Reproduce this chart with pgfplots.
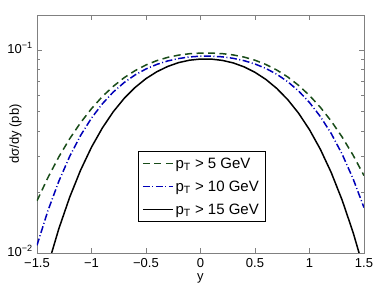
\documentclass[border=0pt]{standalone}
\usepackage{pgfplots}
\pgfplotsset{compat=1.18}
\usepackage{fontspec}
\setmainfont{Liberation Sans}
\definecolor{dgreen}{rgb}{0.1,0.3,0.1}
\definecolor{dblue}{rgb}{0,0,0.72}
\definecolor{axgray}{rgb}{0.5,0.5,0.5}
\begin{document}
\begin{tikzpicture}
\begin{axis}[
  name=ax,
  scale only axis, width=327pt, height=238pt,
  xmin=-1.5, xmax=1.5, ymode=log, ymin=0.01, ymax=0.1487,
  xtick={-1.5,-1,-0.5,0,0.5,1,1.5},
  xticklabels={−1.5,−1,−0.5,0,0.5,1,1.5},
  ytick={0.01,0.1},
  yticklabels={10\textsuperscript{−2},10\textsuperscript{−1}},
  tick align=inside, major tick length=5pt, minor tick length=3pt,
  axis line style={axgray},
  every tick/.style={axgray, line width=0.5pt},
  font=\fontsize{13}{15}\selectfont,
  xticklabel style={yshift=-4pt, inner sep=1pt},
  yticklabel style={xshift=-3pt, yshift=2pt, inner sep=1pt},
  xlabel={y},
  xlabel style={at={(axis description cs:0.5,-0.108)}, anchor=center, inner sep=0pt},
  ylabel={dσ/dy (pb)},
  ylabel style={at={(axis description cs:-0.066,0.5)}, anchor=center},
  legend style={at={(0.503,0.279)}, anchor=center, draw=black, fill=white,
    font=\fontsize{15}{17}\selectfont, row sep=7pt, inner sep=4pt},
  legend cell align=left,
  legend image code/.code={\draw[#1] (0pt,0pt) -- (30pt,0pt);},
]
\addplot[dgreen, line width=1.5pt, dash pattern=on 7pt off 4.5pt] coordinates {
(-1.5,0.01807) (-1.4,0.02350) (-1.3,0.02972) (-1.2,0.03656) (-1.1,0.04385)
(-1.0,0.05140) (-0.9,0.05902) (-0.8,0.06622) (-0.7,0.07305) (-0.6,0.07912)
(-0.5,0.08437) (-0.4,0.08865) (-0.3,0.09198) (-0.2,0.09434) (-0.1,0.09583)
(0,0.09652) (0.1,0.09654) (0.2,0.09592) (0.3,0.09454) (0.4,0.09226)
(0.5,0.08904) (0.6,0.08484) (0.7,0.07966) (0.8,0.07367) (0.9,0.06696)
(1.0,0.05970) (1.1,0.05218) (1.2,0.04461) (1.3,0.03724) (1.4,0.03034) (1.5,0.02407)
};
\addlegendentry{p\textsubscript{T} > 5 GeV}
\addplot[dblue, line width=1.5pt, dash pattern=on 7pt off 2.5pt on 1pt off 2.5pt] coordinates {
(-1.5,0.01091) (-1.4,0.01614) (-1.3,0.02254) (-1.2,0.02992) (-1.1,0.03793)
(-1.0,0.04618) (-0.9,0.05434) (-0.8,0.06209) (-0.7,0.06915) (-0.6,0.07535)
(-0.5,0.08063) (-0.4,0.08493) (-0.3,0.08831) (-0.2,0.09076) (-0.1,0.09240)
(0,0.09321) (0.1,0.09324) (0.2,0.09251) (0.3,0.09097) (0.4,0.08858)
(0.5,0.08531) (0.6,0.08111) (0.7,0.07594) (0.8,0.06981) (0.9,0.06282)
(1.0,0.05512) (1.1,0.04699) (1.2,0.03873) (1.3,0.03066) (1.4,0.02323) (1.5,0.01674)
};
\addlegendentry{p\textsubscript{T} > 10 GeV}
\addplot[black, line width=1.5pt] coordinates {
(-1.5,0.00533) (-1.4,0.00866) (-1.3,0.01315) (-1.2,0.01883) (-1.1,0.02559)
(-1.0,0.03320) (-0.9,0.04132) (-0.8,0.04965) (-0.7,0.05776) (-0.6,0.06538)
(-0.5,0.07228) (-0.4,0.07816) (-0.3,0.08299) (-0.2,0.08668) (-0.1,0.08906)
(0,0.09023) (0.1,0.09017) (0.2,0.08887) (0.3,0.08638) (0.4,0.08257)
(0.5,0.07762) (0.6,0.07162) (0.7,0.06465) (0.8,0.05698) (0.9,0.04883)
(1.0,0.04051) (1.1,0.03241) (1.2,0.02487) (1.3,0.01820) (1.4,0.01264) (1.5,0.00827)
};
\addlegendentry{p\textsubscript{T} > 15 GeV}
\draw[black, line width=0.6pt] (rel axis cs:0,0) -- (rel axis cs:1,0);
\end{axis}
\path ([xshift=-37pt,yshift=-41pt]ax.south west) rectangle ([xshift=10pt,yshift=15pt]ax.north east);
\end{tikzpicture}
\end{document}
